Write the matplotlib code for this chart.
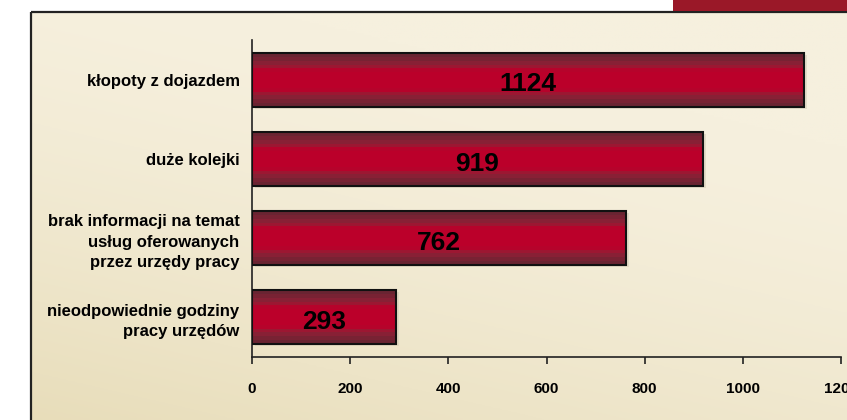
import numpy as np
import matplotlib.pyplot as plt
from matplotlib.patches import Rectangle
from matplotlib.colors import LinearSegmentedColormap

categories = [
    "kłopoty z dojazdem",
    "duże kolejki",
    "brak informacji na temat\nusług oferowanych\nprzez urzędy pracy",
    "nieodpowiednie godziny\npracy urzędów",
]
values = [1124, 919, 762, 293]
xticks = [0, 200, 400, 600, 800, 1000, 1200]

W, H = 847, 420
fig = plt.figure(figsize=(W / 100, H / 100), dpi=100)
fig.patch.set_facecolor("white")
plt.rcParams["font.family"] = ["Liberation Sans", "DejaVu Sans"]

# background panel
bg = fig.add_axes([0, 0, 1, 1])
bg.set_xlim(0, W)
bg.set_ylim(H, 0)
bg.axis("off")
gx, gy = np.meshgrid(np.linspace(0, 1, 200), np.linspace(0, 1, 200))
t = np.clip(0.75 * gy + 0.35 * (1 - gx) - 0.25, 0, 1) ** 1.5
c0 = np.array([0xf6, 0xf0, 0xde]) / 255
c1 = np.array([0xe4, 0xd8, 0xb0]) / 255
img = c0[None, None, :] * (1 - t[..., None]) + c1[None, None, :] * t[..., None]
bg.imshow(img, extent=(31, W, H, 12), aspect="auto", zorder=0)
bg.add_patch(Rectangle((31, 12), W, H, fill=False, ec="#222222", lw=1.6, zorder=1))
bg.add_patch(Rectangle((673, -1), W - 673 + 1, 12.2, fc="#9a1828", ec="none", zorder=1))

ax = fig.add_axes([252 / W, 1 - 357 / H, (841 - 252) / W, (357 - 40) / H])
ax.set_facecolor("none")

bar_cmap = LinearSegmentedColormap.from_list(
    "bar", [(0, "#6a2432"), (0.2, "#922036"), (0.32, "#bb002a"),
            (0.68, "#bb002a"), (0.8, "#922036"), (1, "#6a2432")])
grad = np.linspace(0, 1, 14).reshape(-1, 1)
bh = 0.68
pos = np.arange(len(values))
for p, v in zip(pos, values):
    # light shadow
    ax.add_patch(Rectangle((6, p - bh / 2 + 0.025), v, bh, fc="#cfc7b0", ec="none",
                           alpha=0.45, zorder=1))
    ax.imshow(grad, cmap=bar_cmap, aspect="auto", interpolation="nearest",
              extent=(0, v, p + bh / 2, p - bh / 2), zorder=2)
    ax.add_patch(Rectangle((0, p - bh / 2), v, bh, fill=False, ec="#111111",
                           lw=1.5, zorder=3))
    ax.text(v / 2, p + 0.06, str(v), ha="center", va="center", fontsize=19,
            fontweight="bold", color="black", zorder=4)

ax.set_xlim(0, 1200)
ax.set_ylim(3.5, -0.5)
ax.set_xticks(xticks)
ax.set_xticklabels([str(x) for x in xticks], fontsize=11, fontweight="bold")
ax.set_yticks(pos)
ax.set_yticklabels(categories, fontsize=12, fontweight="bold", linespacing=1.45)
ax.tick_params(axis="x", direction="out", length=5, width=1.2, pad=13, color="#222222")
ax.tick_params(axis="y", length=0, pad=9)
for s in ["top", "right"]:
    ax.spines[s].set_visible(False)
for s in ["left", "bottom"]:
    ax.spines[s].set_linewidth(1.2)
    ax.spines[s].set_color("#222222")

fig.savefig("out.png", dpi=100, facecolor=fig.get_facecolor())
